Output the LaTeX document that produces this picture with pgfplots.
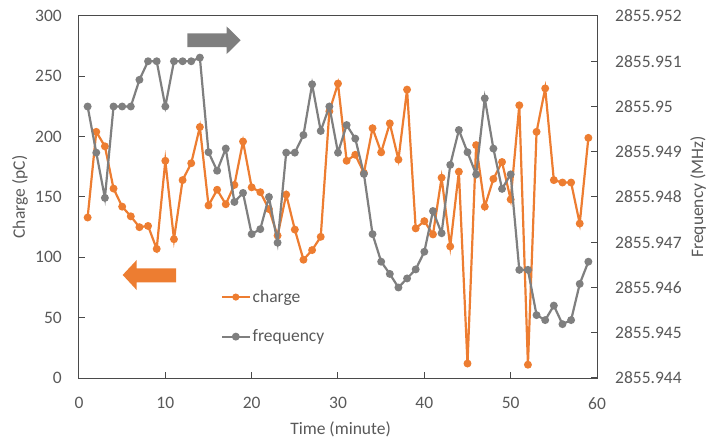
\documentclass[border=0pt]{standalone}
\usepackage{fontspec}
\setmainfont{Carlito}
\usepackage{pgfplots}
\pgfplotsset{compat=1.18}
\usepackage{pgfplotstable}
\definecolor{chorange}{HTML}{ED7D31}
\definecolor{chgray}{HTML}{7F7F7F}
\definecolor{txtgray}{HTML}{595959}
\definecolor{axgray}{HTML}{4A4A4A}
\def\freqstrip#1.#2\relax{#2}

\pgfplotstableread{
t charge
1 133
2 204
3 192
4 157
5 142
6 134
7 125
8 126
9 107
10 180
11 115
12 164
13 178
14 208
15 143
16 156
17 144
18 160
19 196
20 158
21 154
22 140
23 118
24 152
25 123
26 98
27 106
28 117
29 221
30 244
31 180
32 185
33 170
34 207
35 187
36 211
37 181
38 239
39 124
40 130
41 119
42 166
43 109
44 171
45 12
46 193
47 142
48 165
49 179
50 148
51 226
52 11
53 204
54 240
55 164
56 162
57 162
58 128
59 199
}\chargedata

\pgfplotstableread{
t freq
1 2855.95000
2 2855.94898
3 2855.94798
4 2855.95000
5 2855.95000
6 2855.95000
7 2855.95059
8 2855.95100
9 2855.95100
10 2855.95000
11 2855.95100
12 2855.95100
13 2855.95100
14 2855.95108
15 2855.94899
16 2855.94858
17 2855.94907
18 2855.94789
19 2855.94809
20 2855.94718
21 2855.94729
22 2855.94800
23 2855.94699
24 2855.94898
25 2855.94898
26 2855.94937
27 2855.95049
28 2855.94946
29 2855.95000
30 2855.94898
31 2855.94959
32 2855.94929
33 2855.94851
34 2855.94718
35 2855.94657
36 2855.94630
37 2855.94600
38 2855.94620
39 2855.94640
40 2855.94679
41 2855.94769
42 2855.94720
43 2855.94871
44 2855.94948
45 2855.94899
46 2855.94850
47 2855.95018
48 2855.94907
49 2855.94818
50 2855.94850
51 2855.94639
52 2855.94639
53 2855.94539
54 2855.94528
55 2855.94560
56 2855.94519
57 2855.94528
58 2855.94608
59 2855.94657
}\freqdata

\pgfplotsset{
  common/.style={
    scale only axis, width=518pt, height=362pt,
    xmin=0, xmax=60,
    tick align=inside,
    major tick length=6pt,
    tick style={color=axgray, line width=1pt},
    tick label style={font=\fontsize{17.5}{20}\selectfont, text=txtgray},
    label style={font=\fontsize{17.5}{20}\selectfont, text=txtgray},
    /pgf/number format/assume math mode=true,
  },
}

\begin{document}
\begin{tikzpicture}
\begin{axis}[common,
  ymin=0, ymax=300,
  xtick={0,10,...,60}, ytick={0,50,...,300},
  xtick pos=left, ytick pos=left,
  axis line style={color=axgray, line width=1pt},
  yticklabel style={anchor=east, inner sep=0pt, xshift=-17pt},
  xticklabel style={anchor=north, inner sep=0pt, yshift=-19pt},
  xlabel={Time (minute)}, ylabel={Charge (pC)},
  xlabel style={at={(axis description cs:0.505,-0.141)}, anchor=center},
  ylabel style={at={(axis description cs:-0.114,0.5)}, anchor=center},
]
\fill[chgray] (axis cs:12.54,274.1) -- (axis cs:17.11,274.1) -- (axis cs:17.11,268.5) -- (axis cs:18.73,279.9) -- (axis cs:17.11,291.3) -- (axis cs:17.11,285.7) -- (axis cs:12.54,285.7) -- cycle;
\fill[chorange] (axis cs:5.06,85.4) -- (axis cs:6.68,97.8) -- (axis cs:6.68,90.9) -- (axis cs:11.24,90.9) -- (axis cs:11.24,79.3) -- (axis cs:6.68,79.3) -- (axis cs:6.68,72.9) -- cycle;
\addplot[chorange, line width=2.2pt, mark=*, mark size=2.8pt, mark options={solid}] table[x=t, y=charge] {\chargedata};
\end{axis}
\begin{axis}[common,
  y coord trafo/.code={\edef\pgfmathresult{\the\numexpr\freqstrip#1\relax-94400\relax}},
  ymin=2855.94400, ymax=2855.95200,
  ytick={2855.94400,2855.94500,2855.94600,2855.94700,2855.94800,2855.94900,2855.95000,2855.95100,2855.95200},
  yticklabels={2855.944,2855.945,2855.946,2855.947,2855.948,2855.949,2855.95,2855.951,2855.952},
  xtick=\empty,
  ytick pos=right,
  axis line style={draw=none},
  yticklabel style={anchor=west, inner sep=0pt, xshift=18pt},
  ylabel={Frequency (MHz)},
  ylabel style={at={(axis description cs:1.195,0.5)}, anchor=center},
  legend cell align=left,
  legend image code/.code={\draw[mark repeat=2, mark phase=2, #1] plot coordinates {(0pt,0pt) (13.8pt,0pt) (27.6pt,0pt)};},
  legend style={at={(axis description cs:0.2736,0.243)}, anchor=north west, draw=none, fill=none,
    font=\fontsize{17.5}{20}\selectfont, text=txtgray, inner sep=0pt, row sep=26pt,
    nodes={inner sep=0pt}, column sep=2pt},
]
\addlegendimage{chorange, line width=2pt, mark=*, mark size=2.5pt, mark options={solid}}
\addlegendentry{charge}
\addplot[chgray, line width=2.2pt, mark=*, mark size=2.8pt, mark options={solid}] table[x=t, y=freq] {\freqdata};
\addlegendentry{frequency}
\end{axis}
\pgfresetboundingbox
\path[use as bounding box] (-79pt,-61pt) rectangle (628pt,378pt);
\end{tikzpicture}
\end{document}
